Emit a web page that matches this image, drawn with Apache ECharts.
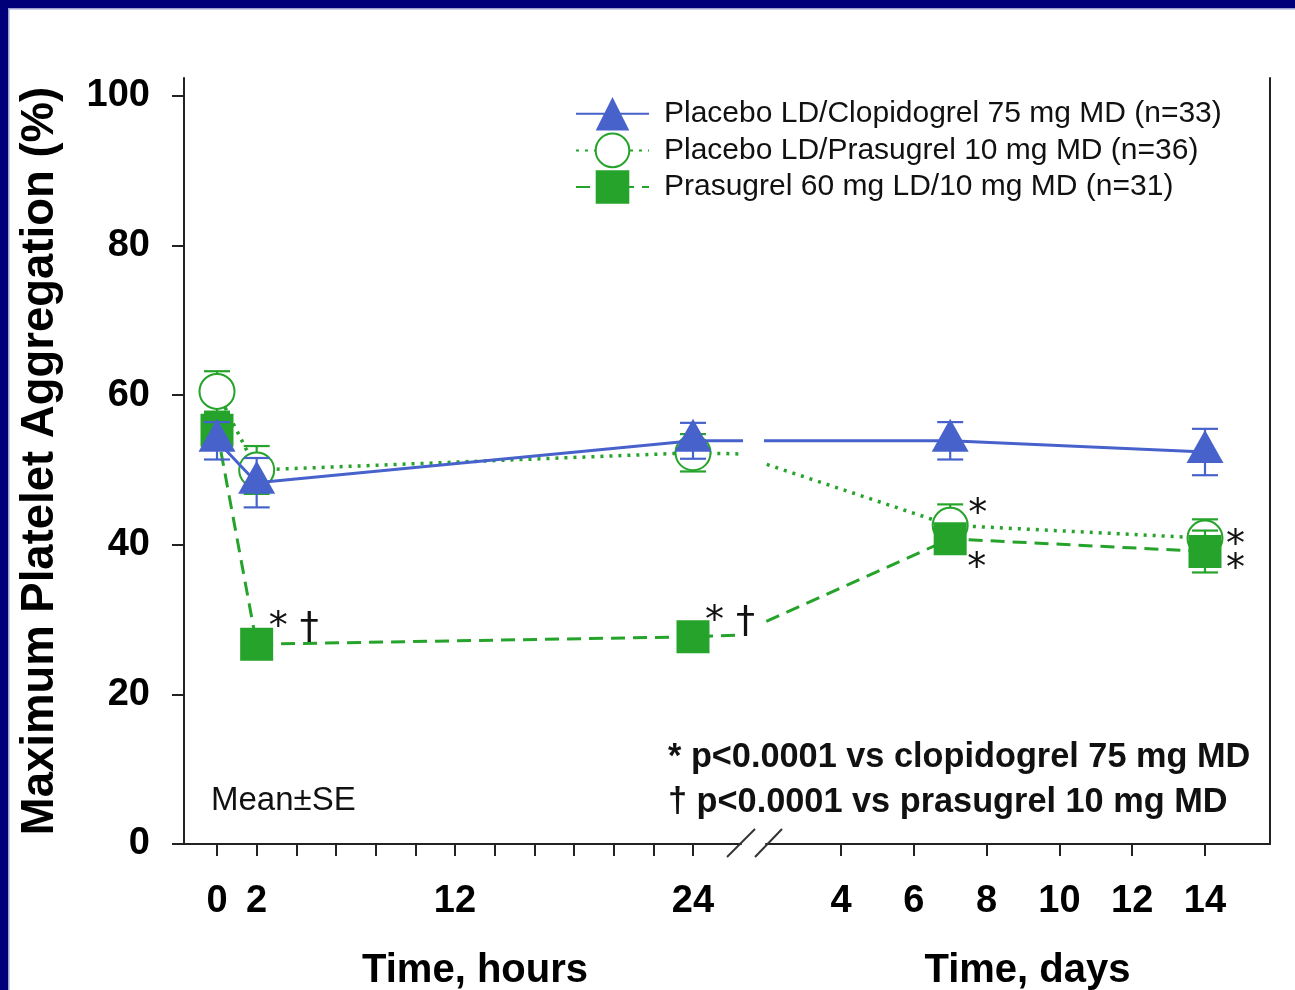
<!DOCTYPE html>
<html>
<head>
<meta charset="utf-8">
<script src="https://cdn.jsdelivr.net/npm/echarts@6/dist/echarts.min.js"></script>
<style>
  html, body { margin: 0; padding: 0; background: #fff; }
  #chart { width: 1295px; height: 990px; }
</style>
</head>
<body>
<div id="chart"></div>
<script>
// Sampling times, hours after the loading dose (0 h ... day 14)
const timeHours = [0, 2, 24, 168, 336];

const seriesNames = [
  'Placebo LD/Clopidogrel 75 mg MD (n=33)',
  'Placebo LD/Prasugrel 10 mg MD (n=36)',
  'Prasugrel 60 mg LD/10 mg MD (n=31)'
];

// Maximum platelet aggregation (%), mean and SE per sampling time
const clopMean   = [53.9, 48.3, 53.9, 53.9, 52.4];
const clopSE     = [2.5, 3.3, 2.4, 2.5, 3.1];
const pras10Mean = [60.5, 50.0, 52.3, 42.6, 40.9];
const pras10SE   = [2.7, 3.2, 2.5, 2.8, 2.5];
const pras60Mean = [55.3, 26.7, 27.7, 40.8, 39.1];
const pras60SE   = [2.3, 1.5, 1.4, 1.8, 2.8];

// Significance markers: * vs clopidogrel 75 mg MD, † vs prasugrel 10 mg MD
const pras10VsClop   = [false, false, false, true, true];
const pras60VsClop   = [false, true, true, true, true];
const pras60VsPras10 = [false, true, true, false, false];

// Axis ticks and labels
const yTicks     = [0, 20, 40, 60, 80, 100];
const hourTicks  = [0, 2, 4, 6, 8, 10, 12, 14, 16, 18, 20, 22, 24];
const hourLabels = [0, 2, 12, 24];
const dayTicks   = [4, 6, 8, 10, 12, 14];

const footnotes = [
  '* p<0.0001 vs clopidogrel 75 mg MD',
  '† p<0.0001 vs prasugrel 10 mg MD'
];

const BLUE = '#4862cc';
const GREEN = '#25a32a';
const INK = '#111';
const FONT = 'Liberation Sans, Arial, sans-serif';

// Left panel plots hours, right panel plots days; both panels draw the whole
// curve and clip it, so the segment 24 h -> day 7 runs through the axis break.
const toX = [h => h, h => h / 24];

// Where each significance marker sits relative to its symbol (px)
const circleMarkOffsets = [null, null, null, [18, -10], [21, 8]];
const squareMarkOffsets = [null, [12, -16], [12, -15], [17, 30], [21, 19]];

function markText(a, b, i) {
  let s = '';
  if (a && a[i]) s += '*';
  if (b && b[i]) s += ' †';
  return s;
}

function lineData(mean, gridIdx, marks, offsets) {
  return timeHours.map((h, i) => {
    const item = { value: [toX[gridIdx](h), mean[i]] };
    const txt = marks ? marks(i) : '';
    if (txt) {
      item.label = {
        show: true, formatter: txt, position: 'inside',
        align: 'left', verticalAlign: 'middle', offset: offsets[i],
        fontFamily: 'DejaVu Sans', fontSize: 38, color: INK
      };
    }
    return item;
  });
}

function errorSeries(mean, se, gridIdx, color, z) {
  return {
    type: 'custom', xAxisIndex: gridIdx, yAxisIndex: gridIdx, z: z,
    silent: true, clip: true,
    data: timeHours.map((h, i) => [toX[gridIdx](h), mean[i], se[i]]),
    renderItem: function (params, api) {
      const x = api.value(0), m = api.value(1), s = api.value(2);
      const top = api.coord([x, m + s]);
      const bot = api.coord([x, m - s]);
      const cs = params.coordSys;
      if (top[0] < cs.x || top[0] > cs.x + cs.width) return null;
      const hw = 13;
      const style = { stroke: color, lineWidth: 2.2 };
      return {
        type: 'group',
        children: [
          { type: 'line', shape: { x1: top[0], y1: top[1], x2: bot[0], y2: bot[1] }, style: style },
          { type: 'line', shape: { x1: top[0] - hw, y1: top[1], x2: top[0] + hw, y2: top[1] }, style: style },
          { type: 'line', shape: { x1: bot[0] - hw, y1: bot[1], x2: bot[0] + hw, y2: bot[1] }, style: style }
        ]
      };
    }
  };
}

const series = [];
[0, 1].forEach(g => {
  series.push(errorSeries(pras10Mean, pras10SE, g, GREEN, 1));
  series.push({
    type: 'line', name: seriesNames[1], xAxisIndex: g, yAxisIndex: g, z: 2,
    data: lineData(pras10Mean, g, i => markText(pras10VsClop, null, i), circleMarkOffsets),
    symbol: 'emptyCircle', symbolSize: 35,
    itemStyle: { color: GREEN, borderWidth: 2 },
    lineStyle: { color: GREEN, width: 3.5, type: [3, 6] },
    emphasis: { disabled: true }, animation: false
  });
  series.push(errorSeries(pras60Mean, pras60SE, g, GREEN, 3));
  series.push({
    type: 'line', name: seriesNames[2], xAxisIndex: g, yAxisIndex: g, z: 4,
    data: lineData(pras60Mean, g, i => markText(pras60VsClop, pras60VsPras10, i), squareMarkOffsets),
    symbol: 'rect', symbolSize: 33,
    itemStyle: { color: GREEN, borderWidth: 0 },
    lineStyle: { color: GREEN, width: 3, type: [14, 8] },
    emphasis: { disabled: true }, animation: false
  });
  series.push(errorSeries(clopMean, clopSE, g, BLUE, 5));
  series.push({
    type: 'line', name: seriesNames[0], xAxisIndex: g, yAxisIndex: g, z: 6,
    data: lineData(clopMean, g, null, null),
    symbol: 'triangle', symbolSize: [37, 33], symbolOffset: [0, -5.5],
    itemStyle: { color: BLUE, borderWidth: 0 },
    lineStyle: { color: BLUE, width: 3, type: 'solid' },
    emphasis: { disabled: true }, animation: false
  });
});

const axisLineStyle = { color: '#222', width: 2 };
const tickLabelStyle = { fontFamily: FONT, fontSize: 38, fontWeight: 'bold', color: '#000' };
const axisNameStyle = { fontFamily: FONT, fontSize: 40, fontWeight: 'bold', color: '#000' };

function xAxis(g, min, max, ticks, labels, name, namePad) {
  return {
    type: 'value', gridIndex: g, min: min, max: max,
    axisLine: { show: true, onZero: false, lineStyle: axisLineStyle },
    axisTick: { show: true, inside: false, length: 12, customValues: ticks, lineStyle: axisLineStyle },
    axisLabel: Object.assign({ customValues: labels, margin: 39 }, tickLabelStyle),
    splitLine: { show: false },
    name: name, nameLocation: 'middle', nameGap: 107,
    nameTextStyle: Object.assign({ padding: namePad }, axisNameStyle)
  };
}

const option = {
  backgroundColor: '#fff',
  animation: false,
  grid: [
    { left: 184, right: 554, top: 78, bottom: 146, containLabel: false, outerBoundsMode: 'none' },
    { left: 766, right: 25, top: 78, bottom: 146, containLabel: false, outerBoundsMode: 'none' }
  ],
  xAxis: [
    xAxis(0, -1.664, 26.42, hourTicks, hourLabels, 'Time, hours', [0, 0, 0, 25]),
    xAxis(1, 1.94, 15.786, dayTicks, dayTicks, 'Time, days', [0, 0, 0, 19])
  ],
  yAxis: [
    {
      type: 'value', gridIndex: 0, min: 0, max: 102.4,
      axisLine: { show: true, onZero: false, lineStyle: axisLineStyle },
      axisTick: { show: true, inside: false, length: 12, customValues: yTicks, lineStyle: axisLineStyle },
      axisLabel: Object.assign({ customValues: yTicks, margin: 34 }, tickLabelStyle),
      splitLine: { show: false },
      name: 'Maximum Platelet Aggregation (%)', nameLocation: 'middle', nameGap: 121,
      nameTextStyle: { fontFamily: FONT, fontSize: 45.5, fontWeight: 'bold', color: '#000' }
    },
    {
      type: 'value', gridIndex: 1, min: 0, max: 102.4, position: 'right',
      axisLine: { show: true, onZero: false, lineStyle: axisLineStyle },
      axisTick: { show: false }, axisLabel: { show: false }, splitLine: { show: false }
    }
  ],
  legend: {
    data: seriesNames, orient: 'vertical', left: 575, top: 97, padding: 0,
    itemWidth: 73, itemHeight: 42, itemGap: 2,
    textStyle: { fontFamily: FONT, fontSize: 30, color: INK, padding: [0, 0, 0, 10] },
    selectedMode: false
  },
  graphic: [
    { type: 'rect', shape: { x: 0, y: 0, width: 1295, height: 8 }, style: { fill: '#000078' }, z: 100 },
    { type: 'rect', shape: { x: 0, y: 8, width: 1295, height: 1.5 }, style: { fill: '#9aa0d0' }, z: 99 },
    { type: 'rect', shape: { x: 0, y: 0, width: 8, height: 990 }, style: { fill: '#000078' }, z: 100 },
    { type: 'rect', shape: { x: 8, y: 8, width: 1.5, height: 982 }, style: { fill: '#9aa0d0' }, z: 99 },
    // axis break marks
    { type: 'line', shape: { x1: 727, y1: 857, x2: 755, y2: 829 }, style: { stroke: '#333', lineWidth: 2 }, z: 50 },
    { type: 'line', shape: { x1: 755, y1: 857, x2: 782, y2: 829 }, style: { stroke: '#333', lineWidth: 2 }, z: 50 },
    { type: 'text', x: 211, y: 801, style: { text: 'Mean±SE', fontFamily: FONT, fontSize: 33, fill: INK, verticalAlign: 'middle' }, z: 50 },
    { type: 'text', x: 668, y: 758, style: { text: footnotes[0], fontFamily: FONT, fontSize: 34.3, fontWeight: 'bold', fill: INK, verticalAlign: 'middle' }, z: 50 },
    { type: 'text', x: 668, y: 803, style: { text: footnotes[1], fontFamily: FONT, fontSize: 34.3, fontWeight: 'bold', fill: INK, verticalAlign: 'middle' }, z: 50 }
  ],
  series: series
};

const chart = echarts.init(document.getElementById('chart'), null, { renderer: 'canvas' });
chart.setOption(option);
</script>
</body>
</html>
